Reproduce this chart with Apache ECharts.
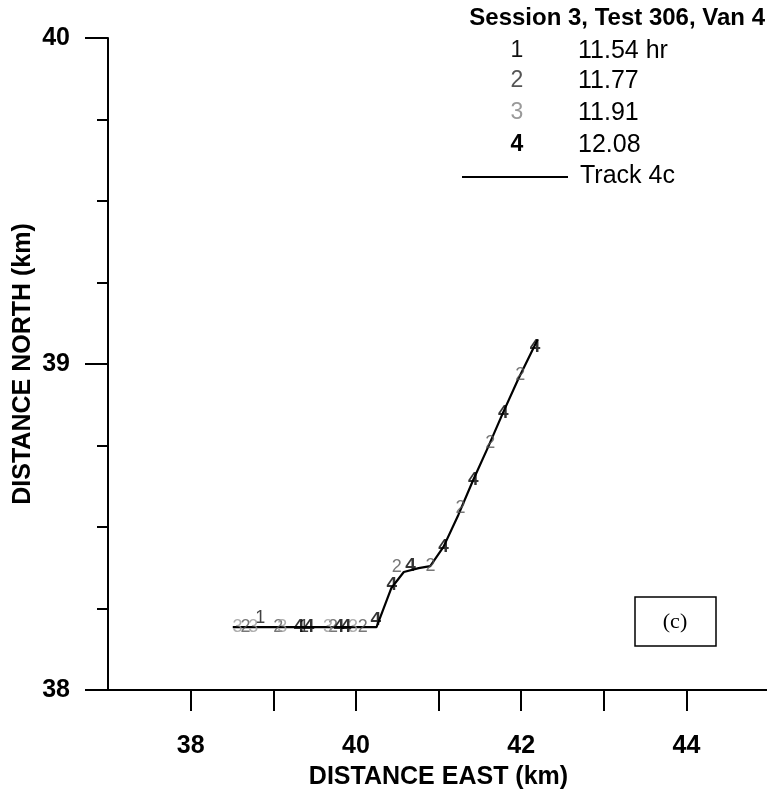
<!DOCTYPE html>
<html>
<head>
<meta charset="utf-8">
<script src="https://cdn.jsdelivr.net/npm/echarts@6/dist/echarts.min.js"></script>
<style>
html,body{margin:0;padding:0;background:#fff;}
#c{width:767px;height:794px;}
</style>
</head>
<body>
<div id="c"></div>
<script>
// ---- data ----
var trackEast  = [38.51, 40.25, 40.43, 40.58, 40.76, 40.90, 41.06, 41.24, 41.42, 41.60, 41.78, 41.96, 42.20];
var trackNorth = [38.193, 38.193, 38.313, 38.362, 38.374, 38.380, 38.439, 38.537, 38.644, 38.745, 38.850, 38.951, 39.075];

var fix1East  = [38.843, 39.373];
var fix1North = [38.221, 38.193];

var fix2East  = [38.663, 39.060, 39.723, 40.084, 40.494, 40.904, 41.265, 41.627, 41.988];
var fix2North = [38.193, 38.193, 38.193, 38.193, 38.377, 38.380, 38.558, 38.758, 38.966];

var fix3East  = [38.566, 38.759, 39.108, 39.663, 39.964];
var fix3North = [38.193, 38.193, 38.193, 38.193, 38.193];

var fix4East  = [39.313, 39.434, 39.795, 39.880, 40.241, 40.434, 40.663, 41.060, 41.422, 41.783, 42.169];
var fix4North = [38.193, 38.193, 38.193, 38.193, 38.215, 38.322, 38.380, 38.439, 38.644, 38.850, 39.052];

var xTickValues  = [38, 39, 40, 41, 42, 43, 44, 45];
var xLabelValues = [38, 40, 42, 44];
var yMajorValues = [38, 39, 40];
var yMinorValues = [38.25, 38.5, 38.75, 39.25, 39.5, 39.75];

var legendTitle  = 'Session 3, Test 306, Van 4';
var legendDigits = ['1', '2', '3', '4'];
var legendTimes  = ['11.54 hr', '11.77', '11.91', '12.08'];
var trackName    = 'Track 4c';
var panelTag     = '(c)';

// ---- styles ----
var FONT = 'Liberation Sans, Arial, sans-serif';
var digitStyles = [
  {color: '#111111', fontWeight: 'normal', size: 18},
  {color: '#555555', fontWeight: 'normal', size: 18},
  {color: '#9a9a9a', fontWeight: 'normal', size: 18},
  {color: '#000000', fontWeight: 'bold', size: 19}
];

function zip(a, b) { return a.map(function (v, i) { return [v, b[i]]; }); }

function fixSeries(idx, e, n) {
  var st = digitStyles[idx];
  return {
    type: 'scatter',
    name: legendTimes[idx],
    data: zip(e, n),
    symbolSize: 1,
    itemStyle: {color: 'rgba(0,0,0,0)'},
    z: 3 + idx,
    label: {
      show: true,
      position: 'inside',
      formatter: legendDigits[idx],
      color: st.color,
      fontWeight: st.fontWeight,
      fontSize: st.size,
      fontFamily: FONT
    },
    silent: true
  };
}

var graphics = [];
graphics.push({
  type: 'text', x: 765, y: 18,
  style: {text: legendTitle, font: 'bold 24px ' + FONT, fill: '#000', align: 'right', verticalAlign: 'middle'}
});
var rowY = [51, 81, 113, 145];
legendDigits.forEach(function (d, i) {
  var st = digitStyles[i];
  graphics.push({
    type: 'text', x: 517, y: rowY[i],
    style: {text: d, font: st.fontWeight + ' 23px ' + FONT, fill: st.color, align: 'center', verticalAlign: 'middle'}
  });
  graphics.push({
    type: 'text', x: 578, y: rowY[i],
    style: {text: legendTimes[i], font: '25px ' + FONT, fill: '#000', align: 'left', verticalAlign: 'middle'}
  });
});
graphics.push({
  type: 'line', shape: {x1: 462, y1: 177, x2: 568, y2: 177},
  style: {stroke: '#000', lineWidth: 2}
});
graphics.push({
  type: 'text', x: 580, y: 176,
  style: {text: trackName, font: '25px ' + FONT, fill: '#000', align: 'left', verticalAlign: 'middle'}
});
graphics.push({
  type: 'rect', shape: {x: 635, y: 597, width: 81, height: 49},
  style: {stroke: '#000', lineWidth: 1.5, fill: 'none'}
});
graphics.push({
  type: 'text', x: 675, y: 622,
  style: {text: panelTag, font: '22px Liberation Serif, Times New Roman, serif', fill: '#000', align: 'center', verticalAlign: 'middle'}
});

var axisLineStyle = {color: '#000', width: 2};
var axisFont = {fontFamily: FONT, fontWeight: 'bold', fontSize: 25, color: '#000'};

var option = {
  animation: false,
  backgroundColor: '#fff',
  grid: {left: 108, top: 38, width: 661, height: 652, containLabel: false, outerBoundsMode: 'none'},
  xAxis: {
    type: 'value', min: 37, max: 45, interval: 1,
    name: 'DISTANCE EAST (km)', nameLocation: 'middle', nameGap: 75, nameMoveOverlap: false,
    nameTextStyle: axisFont,
    axisLine: {show: true, onZero: false, lineStyle: axisLineStyle},
    axisTick: {show: true, length: 21, inside: false, customValues: xTickValues, lineStyle: {color: '#000', width: 2}},
    axisLabel: Object.assign({show: true, customValues: xLabelValues, margin: 44}, axisFont),
    splitLine: {show: false}
  },
  yAxis: [{
    type: 'value', min: 38, max: 40, interval: 1,
    name: 'DISTANCE NORTH (km)', nameLocation: 'middle', nameGap: 72, nameRotate: 90, nameMoveOverlap: false,
    nameTextStyle: axisFont,
    axisLine: {show: true, onZero: false, lineStyle: axisLineStyle},
    axisTick: {show: true, length: 23, customValues: yMajorValues, lineStyle: {color: '#000', width: 2}},
    axisLabel: Object.assign({show: true, customValues: yMajorValues, margin: 38}, axisFont),
    splitLine: {show: false}
  }, {
    type: 'value', min: 38, max: 40, interval: 1, position: 'left',
    axisLine: {show: false},
    axisTick: {show: true, length: 11, customValues: yMinorValues, lineStyle: {color: '#000', width: 2}},
    axisLabel: {show: false},
    splitLine: {show: false}
  }],
  graphic: graphics,
  series: [
    {
      type: 'line', name: trackName, data: zip(trackEast, trackNorth),
      showSymbol: false, symbol: 'none',
      lineStyle: {color: '#000', width: 2.2}, z: 2, silent: true
    },
    fixSeries(0, fix1East, fix1North),
    fixSeries(1, fix2East, fix2North),
    fixSeries(2, fix3East, fix3North),
    fixSeries(3, fix4East, fix4North)
  ]
};

var chart = echarts.init(document.getElementById('c'), null, {renderer: 'canvas'});
chart.setOption(option);
</script>
</body>
</html>
